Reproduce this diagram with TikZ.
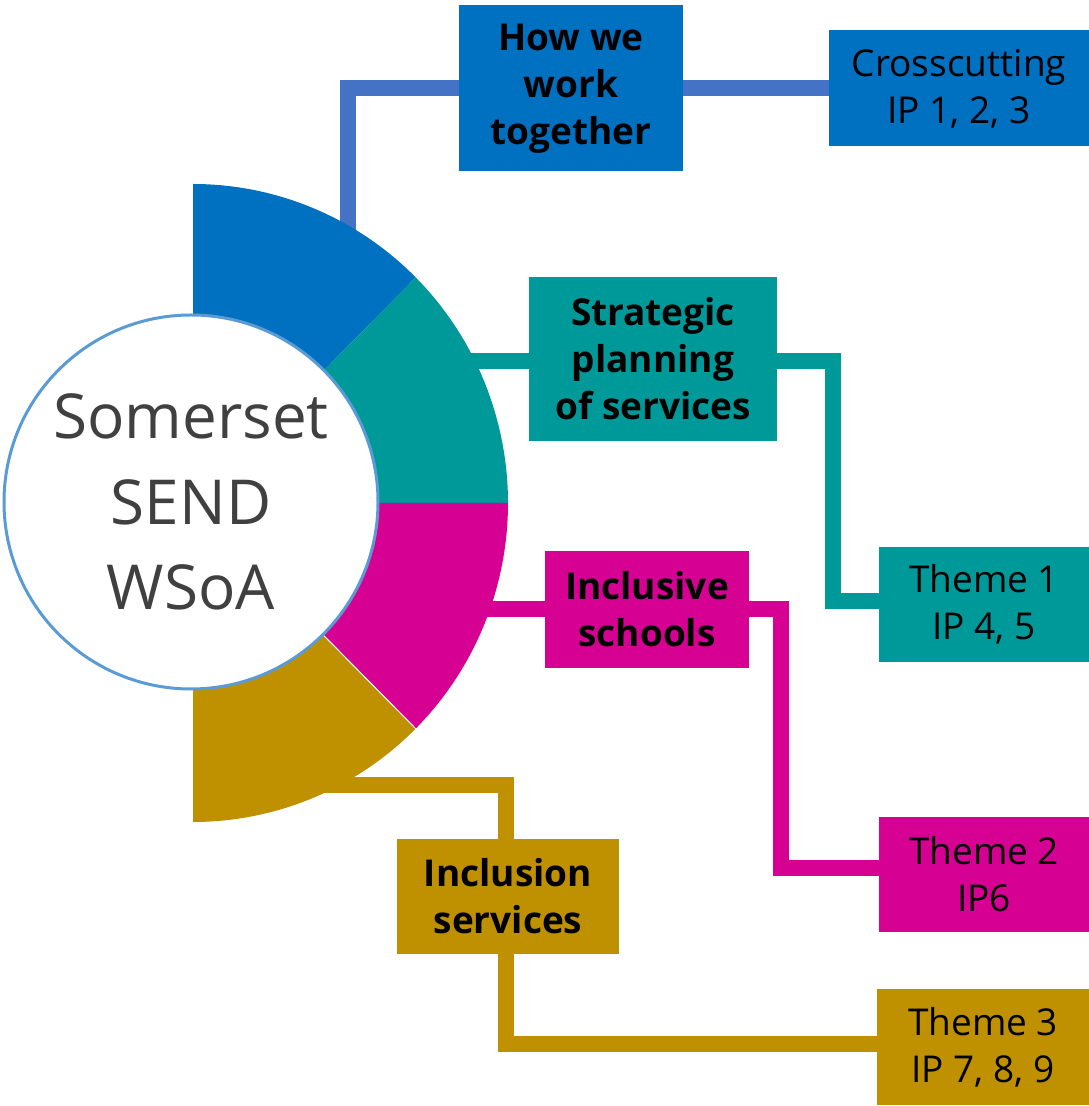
\documentclass[tikz,border=0pt]{standalone}
\usepackage{fontspec}
\setmainfont{Open Sans}
\usetikzlibrary{calc}
\pgfdeclarelayer{bg}
\pgfsetlayers{bg,main}
\definecolor{cblue}{HTML}{0070C0}
\definecolor{cbline}{HTML}{4472C4}
\definecolor{cteal}{HTML}{009999}
\definecolor{cmag}{HTML}{D60093}
\definecolor{cgold}{HTML}{BF9000}
\definecolor{ccirc}{HTML}{5B9BD5}
\definecolor{ctext}{HTML}{404040}
\begin{document}
\begin{tikzpicture}[x=1pt,y=1pt,
  box/.style={inner sep=0pt, align=center, text=black, font=\fontsize{37}{47}\selectfont},
  headbox/.style={box, font=\bfseries\fontsize{37}{47}\selectfont},
  conn/.style={line width=16pt, line join=miter, line cap=rect}]
\useasboundingbox (0,0) rectangle (1089,1106);
% ring
\fill[cblue] (193,603) -- (193,922) arc[start angle=90,end angle=45,x radius=315,y radius=319] -- cycle;
\fill[cteal] (193,603) -- (508,603) arc[start angle=0,end angle=45,x radius=315,y radius=319] -- cycle;
\fill[cmag] (193,603) -- (508,603) arc[start angle=0,end angle=-45,x radius=315,y radius=319] -- cycle;
\fill[cgold] (193,603) -- (193,284) arc[start angle=-90,end angle=-45,x radius=315,y radius=319] -- cycle;
\draw[white, line width=1pt] (193,603) -- (416,377);
% centre circle
\node[circle, fill=white, draw=ccirc, line width=3pt, minimum size=374pt, inner sep=0pt,
      align=center, text=ctext, font=\fontsize{62}{85.5}\selectfont] (core) at (191,604) {Somerset\\SEND\\WSoA};
% boxes
\node[headbox, fill=cblue, minimum width=224pt, minimum height=166pt] (hw) at (571,1017.5) {How we\\work\\together};
\node[box, fill=cblue, minimum width=260pt, minimum height=116pt] (cc) at (959,1017.5) {Crosscutting\\IP 1, 2, 3};
\node[headbox, fill=cteal, minimum width=248pt, minimum height=164pt] (sp) at (653,747) {Strategic\\planning\\of services};
\node[box, fill=cteal, minimum width=210pt, minimum height=115pt] (t1) at (984,501.5) {Theme 1\\IP 4, 5};
\node[headbox, fill=cmag, minimum width=204pt, minimum height=117pt] (is) at (647,496.5) {Inclusive\\schools};
\node[box, fill=cmag, minimum width=210pt, minimum height=115pt] (t2) at (984,231.5) {Theme 2\\IP6};
\node[headbox, fill=cgold, minimum width=222pt, minimum height=115pt] (ins) at (508,209.5) {Inclusion\\services};
\node[box, fill=cgold, minimum width=212pt, minimum height=116pt] (t3) at (983,59) {Theme 3\\IP 7, 8, 9};
% connector points
\coordinate (b0) at (348,866);
\coordinate (t0) at (440,745);
\coordinate (t1b) at (833,505);
\coordinate (m0) at (470,497);
\coordinate (m1) at (781,238);
\coordinate (g0) at (300,321);
\coordinate (g1) at (506,62);
\begin{pgfonlayer}{bg}
\draw[conn, cbline] (b0) |- (hw.west);
\draw[conn, cbline] (hw.east) -- (cc.west);
\draw[conn, cteal] (t0) -- (t0 -| sp.west);
\draw[conn, cteal] (sp.east |- t0) -| (t1b) -- (t1b -| t1.west);
\draw[conn, cmag] (m0) -- (m0 -| is.west);
\draw[conn, cmag] (is.east |- m0) -| (m1) -- (m1 -| t2.west);
\draw[conn, cgold] (g0) -| (g1 |- ins.north);
\draw[conn, cgold] (g1 |- ins.south) |- (g1 -| t3.west);
\end{pgfonlayer}
\end{tikzpicture}
\end{document}
